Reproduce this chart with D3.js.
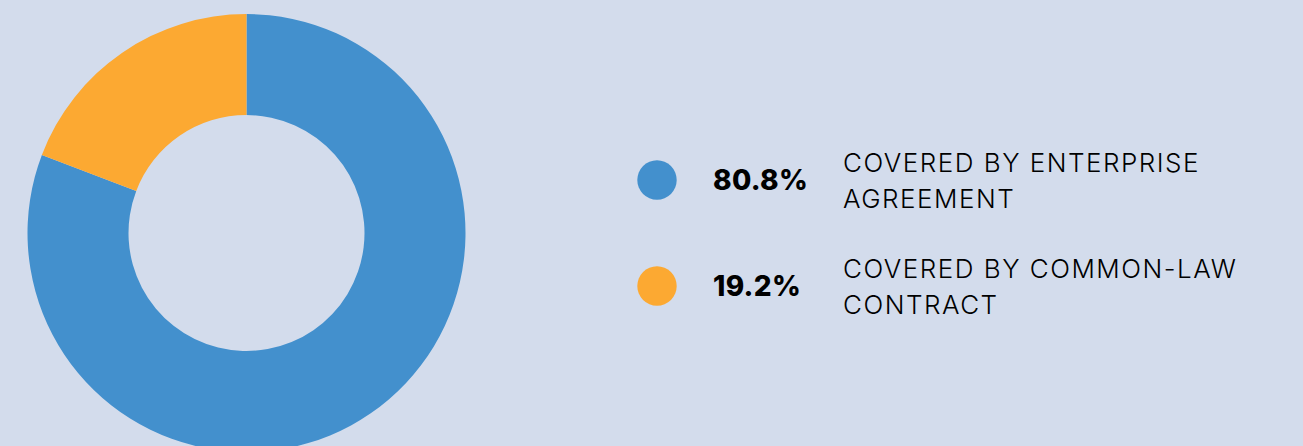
<!DOCTYPE html>
<html>
<head>
<meta charset="utf-8">
<script src="https://cdn.jsdelivr.net/npm/d3@7"></script>
<style>
  html, body { margin: 0; padding: 0; background: #d3dcec; }
  svg { display: block; }
</style>
</head>
<body>
<svg id="chart" width="1303" height="446"></svg>
<script>
// Share of employees by agreement type
const categories = ["COVERED BY ENTERPRISE AGREEMENT", "COVERED BY COMMON-LAW CONTRACT"];
const labelLines = [["COVERED BY ENTERPRISE", "AGREEMENT"], ["COVERED BY COMMON-LAW", "CONTRACT"]];
const values = [80.8, 19.2];
const colors = ["#4390cd", "#fca932"];

const svg = d3.select("#chart");
const W = 1303, H = 446;

svg.append("rect").attr("width", W).attr("height", H).attr("fill", "#d3dcec");

// Donut
const cx = 246.5, cy = 233, outerR = 219, innerR = 118;
const pie = d3.pie().sort(null).value(d => d);
const arc = d3.arc().innerRadius(innerR).outerRadius(outerR);

svg.append("g")
  .attr("transform", `translate(${cx},${cy})`)
  .selectAll("path")
  .data(pie(values))
  .join("path")
  .attr("d", arc)
  .attr("fill", (d, i) => colors[i]);

// Legend
const rowY = d3.scalePoint().domain(d3.range(categories.length)).range([180, 286]);
const legend = svg.append("g");
const rows = legend.selectAll("g.row")
  .data(categories)
  .join("g")
  .attr("class", "row")
  .attr("transform", (d, i) => `translate(0,${rowY(i)})`);

rows.append("circle")
  .attr("cx", 657)
  .attr("cy", 0)
  .attr("r", 19.7)
  .attr("fill", (d, i) => colors[i]);

rows.append("text")
  .attr("x", 713)
  .attr("y", 10)
  .attr("font-family", "Inter, 'Open Sans', sans-serif")
  .attr("font-weight", 800)
  .attr("font-size", 28)
  .attr("letter-spacing", 0.3)
  .attr("fill", "#000")
  .text((d, i) => values[i].toFixed(1) + "%");

rows.append("text")
  .attr("x", 843)
  .attr("y", -8)
  .attr("font-family", "Inter, 'Open Sans', sans-serif")
  .attr("font-weight", 300)
  .attr("font-size", 26)
  .attr("letter-spacing", 1.5)
  .attr("fill", "#000")
  .selectAll("tspan")
  .data((d, i) => labelLines[i])
  .join("tspan")
  .attr("x", 843)
  .attr("dy", (d, j) => j === 0 ? 0 : 35.5)
  .text(d => d);
</script>
</body>
</html>
